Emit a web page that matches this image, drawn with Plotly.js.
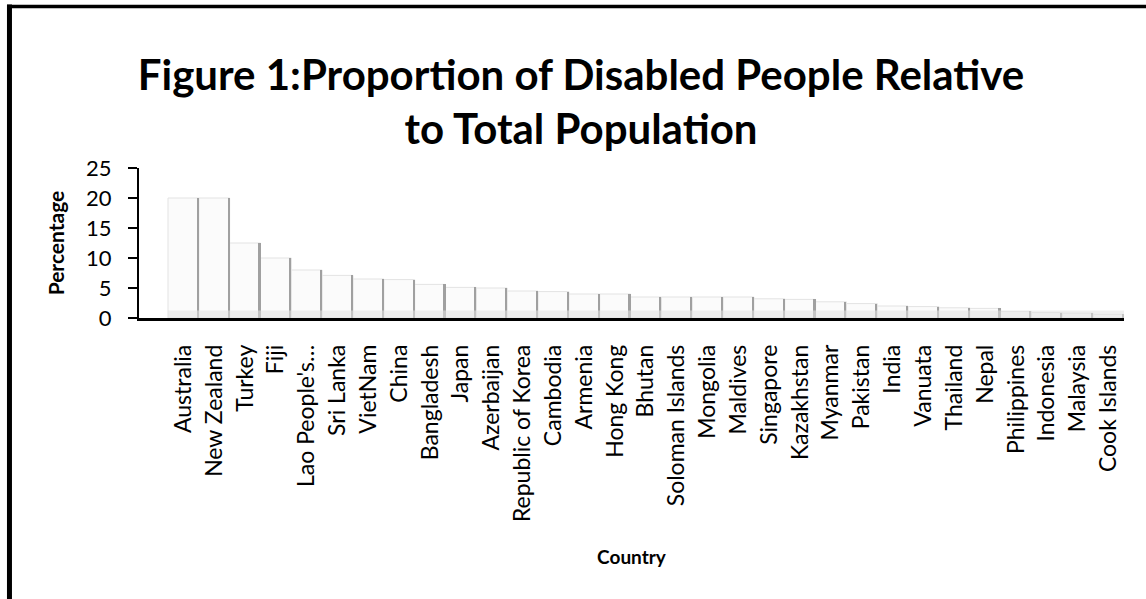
<!DOCTYPE html>
<html>
<head>
<meta charset="utf-8">
<script src="https://cdn.plot.ly/plotly-3.0.1.min.js"></script>
<style>html,body{margin:0;padding:0;background:#fff;}#chart{width:1146px;height:599px;}</style>
</head>
<body>
<div id="chart"></div>
<script>
const countries = ["Australia","New Zealand","Turkey","Fiji","Lao People's\u2026","Sri Lanka","VietNam","China","Bangladesh","Japan","Azerbaijan","Republic of Korea","Cambodia","Armenia","Hong Kong","Bhutan","Soloman Islands","Mongolia","Maldives","Singapore","Kazakhstan","Myanmar","Pakistan","India","Vanuata","Thailand","Nepal","Philippines","Indonesia","Malaysia","Cook Islands"];
const percentages = [20,20,12.5,10,8,7.1,6.5,6.4,5.6,5.1,5,4.5,4.4,4,4,3.5,3.5,3.5,3.5,3.2,3.1,2.7,2.4,2,1.9,1.7,1.6,1.1,0.9,0.8,0.6];
const yTicks = [0,5,10,15,20,25];

const FONT = "Lato, 'Open Sans', sans-serif";

const faces = {
  type: 'bar', x: countries, y: percentages,
  marker: {color: '#fbfbfb', line: {color: '#e3e3e3', width: 1}},
  hoverinfo: 'x+y', showlegend: false
};
const edges = {
  type: 'bar', x: countries, y: percentages,
  width: 0.07, offset: 0.43,
  marker: {color: '#a0a0a0', line: {width: 0}},
  hoverinfo: 'skip', showlegend: false
};

const layout = {
  width: 1146, height: 599,
  margin: {l: 139, r: 22, t: 168, b: 281},
  paper_bgcolor: '#fff', plot_bgcolor: '#fff',
  barmode: 'overlay', bargap: 0,
  font: {family: FONT, color: '#000', size: 20},
  title: {
    text: 'Figure 1:Proportion of Disabled People Relative<br>to Total Population',
    font: {family: FONT, size: 42, weight: 'bold', color: '#000'},
    x: 0.507, xanchor: 'center', xref: 'container',
    y: 0.85, yanchor: 'top', yref: 'container'
  },
  xaxis: {
    type: 'category', range: [-1.44, 30.5],
    showline: true, linecolor: '#000', linewidth: 2.5,
    ticks: '', tickangle: -90, ticklabelstandoff: 15,
    tickfont: {family: FONT, size: 23, color: '#000'},
    showgrid: false, zeroline: false,
    title: {text: 'Country', font: {family: FONT, size: 19, weight: 'bold'}, standoff: 30}
  },
  yaxis: {
    range: [0, 25], tickvals: yTicks, ticktext: yTicks.map(String),
    showline: true, linecolor: '#000', linewidth: 2,
    ticks: 'outside', ticklen: 9, tickwidth: 2, tickcolor: '#000',
    ticklabelstandoff: 12,
    tickfont: {family: FONT, size: 22, color: '#000'},
    showgrid: false, zeroline: false,
    title: {text: 'Percentage', font: {family: FONT, size: 21, weight: 'bold'}, standoff: 16}
  },
  shapes: [
    {type: 'rect', xref: 'x', yref: 'paper', x0: -0.5, x1: 30.5, y0: 0, y1: 0.05,
     fillcolor: '#e2e2e2', opacity: 0.55, line: {width: 0}, layer: 'above'},
    {type: 'line', xref: 'paper', yref: 'paper', x0: -0.1315, x1: -0.1315, y0: 2.09, y1: -1.9,
     line: {color: '#000', width: 5}},
    {type: 'line', xref: 'paper', yref: 'paper', x0: -0.134, x1: 1.05, y0: 2.077, y1: 2.077,
     line: {color: '#000', width: 3.5}}
  ]
};

Plotly.newPlot('chart', [faces, edges], layout, {displayModeBar: false, staticPlot: true});
</script>
</body>
</html>
